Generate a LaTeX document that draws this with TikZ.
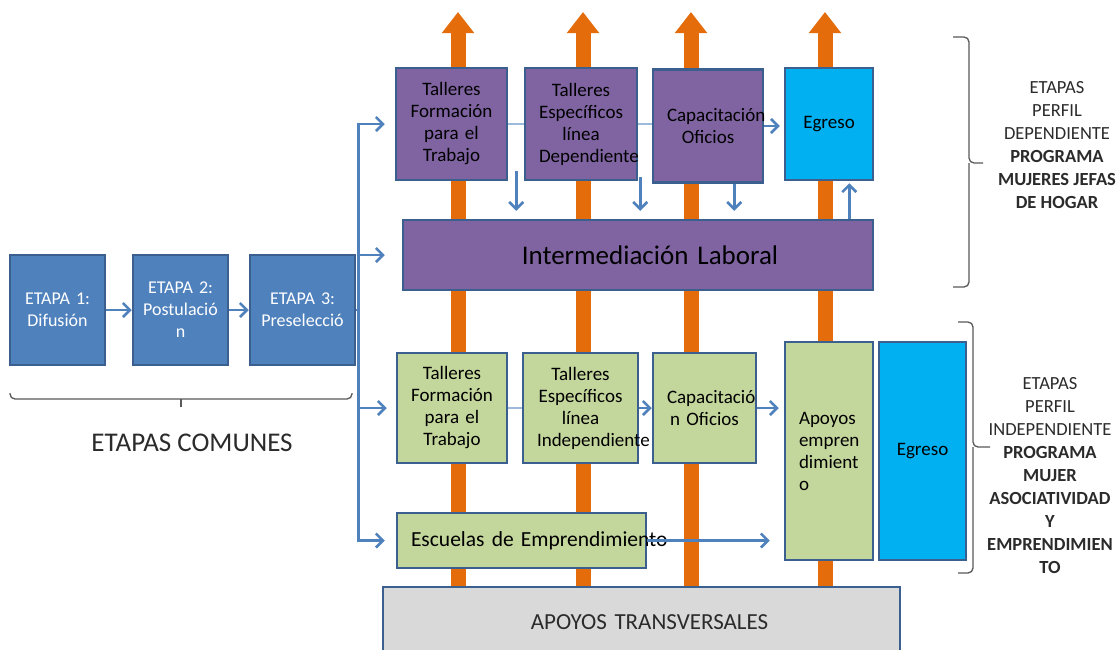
\documentclass[tikz,border=0pt]{standalone}
\usepackage{fontspec}
\setmainfont{Carlito}
\usepackage{xcolor}
\usepackage{tikz}
\usetikzlibrary{positioning,calc,arrows.meta,backgrounds}
\definecolor{azulborde}{HTML}{3B5F8F}
\definecolor{azulflecha}{HTML}{4F81BD}
\definecolor{azulfino}{HTML}{9DB9DC}
\definecolor{azulcaja}{HTML}{4F81BD}
\definecolor{morado}{HTML}{8064A2}
\definecolor{verdeclaro}{HTML}{C3D69B}
\definecolor{celeste}{HTML}{00B0F0}
\definecolor{grisclaro}{HTML}{D9D9D9}
\definecolor{naranjo}{HTML}{E46C0A}
\definecolor{grisllave}{HTML}{595959}
\definecolor{textogris}{HTML}{2B2B2B}

\tikzset{
    caja/.style={draw=azulborde, line width=2.5pt, inner xsep=14pt, inner ysep=3pt, align=center, text=black, font=\fontsize{19}{22}\selectfont},
    etapa/.style={caja, fill=azulcaja, text=white, inner xsep=10pt, font=\fontsize{18}{22}\selectfont},
    cajamorada/.style={caja, fill=morado},
    cajaverde/.style={caja, fill=verdeclaro},
    cajaceleste/.style={caja, fill=celeste},
    flecha/.style={draw=azulflecha, line width=2.5pt, -{Straight Barb[length=7pt,width=14pt]}},
    fina/.style={draw=azulfino, line width=1.2pt},
    naranja/.style={draw=naranjo, line width=15pt, -{Triangle[width=31pt,length=21pt]}},
    llave/.style={draw=grisllave, line width=1.3pt, rounded corners=5pt},
    rotulo/.style={align=center, text=textogris, font=\fontsize{18.5}{23}\selectfont}
}

\begin{document}
\begin{tikzpicture}[x=1pt, y=-1pt]
    \useasboundingbox (0,0) rectangle (1120,649);

    \node[etapa, text width=75pt, minimum height=110pt] (e1) at (57.5,310) {ETAPA 1:\\Difusión};
    \node[etapa, text width=75pt, minimum height=110pt] (e2) at (180.5,310) {ETAPA 2:\\Postulació\\n};
    \node[etapa, text width=85pt, minimum height=110pt] (e3) at (302.5,310) {ETAPA 3:\\Preselecció};

    \node[cajamorada, text width=83pt, minimum height=112pt] (t1) at (451.5,124) {Talleres\\Formación\\para el\\Trabajo};
    \node[cajamorada, text width=84pt, minimum height=112pt] (t2) at (581,124) {Talleres\\Específicos\\línea\\Dependiente};
    \node[cajamorada, text width=82pt, minimum height=113pt] (t3) at (708,126) {Capacitación\\Oficios};
    \node[cajaceleste, text width=60pt, minimum height=112pt] (egr1) at (829,124) {Egreso};
    \node[cajamorada, text width=442pt, minimum height=70pt, font=\fontsize{27}{30}\selectfont] (inter) at (638,255) {\hspace*{24pt}Intermediación Laboral};

    \node[cajaverde, text width=82pt, minimum height=110pt] (g1) at (452,408) {Talleres\\Formación\\para el\\Trabajo};
    \node[cajaverde, text width=87pt, minimum height=110pt] (g2) at (580.5,408) {Talleres\\Específicos\\línea\\Independiente};
    \node[cajaverde, text width=75pt, minimum height=110pt] (g3) at (704.5,408) {Capacitació\\n Oficios};
    \node[cajaverde, text width=60pt, minimum height=218pt, align=left] (apo) at (829,451) {Apoyos\\empren\\dimient\\o};
    \node[cajaceleste, text width=59pt, minimum height=218pt] (egr2) at (922.5,451) {Egreso};
    \node[cajaverde, text width=221pt, minimum height=55pt, align=left, font=\fontsize{21.5}{24}\selectfont] (esc) at (521.5,540.5) {\mbox{Escuelas de Emprendimiento}};

    \node[caja, fill=grisclaro, text width=489pt, minimum height=70pt, text=textogris, font=\fontsize{23}{26}\selectfont] (trans) at (641.5,622) {\hspace*{16pt}APOYOS TRANSVERSALES};

    \node[font=\fontsize{27}{30}\selectfont, text=textogris] (comunes) at (192,443) {ETAPAS COMUNES};
    \node[rotulo] (dep) at (1057,145) {ETAPAS\\PERFIL\\DEPENDIENTE\\\textbf{PROGRAMA}\\\textbf{MUJERES JEFAS}\\\textbf{DE HOGAR}};
    \node[rotulo] (indep) at (1050,475.5) {ETAPAS\\PERFIL\\INDEPENDIENTE\\\textbf{PROGRAMA}\\\textbf{MUJER}\\\textbf{ASOCIATIVIDAD}\\\textbf{Y}\\\textbf{EMPRENDIMIEN}\\\textbf{TO}};

    \begin{scope}[on background layer]
        \fill[white] (0,0) rectangle (1120,649);
        \foreach \x in {458,583,691,825}
            \draw[naranja] (trans.north -| \x,0) -- (\x,12);
    \end{scope}

    \draw[flecha] (e1.east) -- (e2.west);
    \draw[flecha] (e2.east) -- (e3.west);
    \draw[flecha, shorten >=10pt] (e3.east) -- ++(2,0) |- (t1.west);
    \draw[flecha, shorten >=17pt] (e3.east) -- ++(2,0) |- (inter.west);
    \draw[flecha, shorten >=9pt] (e3.east) -- ++(2,0) |- (g1.west);
    \draw[flecha, shorten >=11pt] (e3.east) -- ++(2,0) |- (esc.west);

    \draw[fina] (t1.east) -- (t2.west);
    \draw[fina] (t2.east) -- (t2.east -| t3.west);
    \draw[flecha, shorten >=4pt] (t3.east) -- (t3.east -| egr1.west);
    \draw[flecha, shorten >=8pt] ($(t1.south east)+(8,-10)$) -- ($(t1.south east |- inter.north)+(8,0)$);
    \draw[flecha, shorten >=8pt] ($(t2.south east)+(2,-4)$) -- ($(t2.south east |- inter.north)+(2,0)$);
    \draw[flecha, shorten >=8pt] ($(t3.south east)+(-30,0)$) -- ($(t3.south east |- inter.north)+(-30,0)$);
    \draw[flecha, shorten >=2pt] ($(egr1.south east |- inter.north)+(-25,0)$) -- ($(egr1.south east)+(-25,0)$);

    \draw[fina] (g1.east) -- (g2.west);
    \draw[flecha] (g2.east) -- (g2.east -| g3.west);
    \draw[flecha, shorten >=5pt] (g3.east) -- (g3.east -| apo.west);
    \draw[flecha, shorten >=14pt] (esc.east) -- (esc.east -| apo.west);

    \draw[llave] (10,393) -- (10,399) -- (352,399) -- (352,393);
    \draw[draw=grisllave, line width=1.3pt] (181,399) -- (181,407);
    \draw[llave] (953,37) -- (969,37) -- (969,163) -- (983,163) (969,163) -- (969,287) -- (953,287);
    \draw[llave] (958,322) -- (973,322) -- (973,447) -- (990,447) (973,447) -- (973,573) -- (958,573);
\end{tikzpicture}
\end{document}
